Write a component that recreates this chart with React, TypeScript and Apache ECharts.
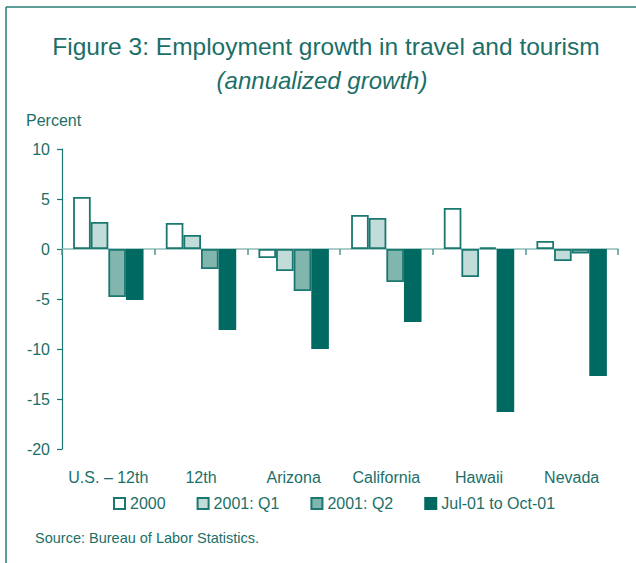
import React, { useEffect, useRef } from "react";
import * as echarts from "echarts";

const categories = ["U.S. – 12th", "12th", "Arizona", "California", "Hawaii", "Nevada"];
const seriesNames = ["2000", "2001: Q1", "2001: Q2", "Jul-01 to Oct-01"];
const values2000 = [5.2, 2.6, -0.9, 3.4, 4.1, 0.8];
const values2001Q1 = [2.7, 1.4, -2.2, 3.1, -2.8, -1.2];
const values2001Q2 = [-4.8, -2.0, -4.2, -3.3, 0.15, -0.45];
const valuesJulOct = [-5.1, -8.1, -10.0, -7.3, -16.3, -12.7];
const yTicks = { min: -20, max: 10, interval: 5 };

const TEXT = "#1b6f68";
const BORDER = "#1b7870";
const FONT = "'Liberation Sans', Arial, sans-serif";

export default function App() {
  const ref = useRef<HTMLDivElement>(null);
  useEffect(() => {
    if (!ref.current) return;
    const chart = echarts.init(ref.current, null, { renderer: "svg" });
    const fills = ["#ffffff", "#c1dcd9", "#81b6af", "#006a62"];
    const borders = [BORDER, BORDER, BORDER, "#006a62"];
    const data = [values2000, values2001Q1, values2001Q2, valuesJulOct];
    chart.setOption({
      animation: false,
      backgroundColor: "#ffffff",
      textStyle: { fontFamily: FONT, color: TEXT },
      grid: { left: 62, right: 18, top: 149, bottom: 114, containLabel: false },
      legend: {
        data: seriesNames,
        left: 113,
        top: 495.5,
        padding: 0,
        itemWidth: 11,
        itemHeight: 11,
        itemGap: 31,
        icon: "rect",
        textStyle: { fontSize: 16, color: TEXT, fontFamily: FONT },
      },
      xAxis: [
        {
          type: "category",
          data: categories,
          position: "bottom",
          axisLine: { show: true, onZero: true, lineStyle: { color: "#8dbdb6", width: 1.5 } },
          axisTick: { show: true, inside: false, interval: 0, length: 6, lineStyle: { color: "#4f958c", width: 1.5 } },
          axisLabel: { show: false },
        },
        {
          type: "category",
          data: categories,
          position: "bottom",
          axisLine: { show: false, onZero: false },
          axisTick: { show: false },
          axisLabel: { fontSize: 16, color: TEXT, margin: 20, fontFamily: FONT, interval: 0, hideOverlap: false },
        },
      ],
      yAxis: {
        type: "value",
        min: yTicks.min,
        max: yTicks.max,
        interval: yTicks.interval,
        axisLine: { show: true, onZero: false, lineStyle: { color: BORDER, width: 1.2 } },
        axisTick: { show: true, length: 5, lineStyle: { color: BORDER, width: 1.2 } },
        axisLabel: { fontSize: 16, color: TEXT, margin: 12, fontFamily: FONT },
        splitLine: { show: false },
      },
      series: seriesNames.map((name, i) => ({
        name,
        type: "bar",
        xAxisIndex: 0,
        data: data[i],
        barGap: "0%",
        barCategoryGap: "24%",
        itemStyle: { color: fills[i], borderColor: borders[i], borderWidth: 1.8 },
      })),
      graphic: [
        { type: "line", shape: { x1: 6, y1: 7, x2: 636, y2: 7 }, style: { stroke: "#2a7d75", lineWidth: 1.5 } },
        { type: "line", shape: { x1: 6, y1: 7, x2: 6, y2: 563 }, style: { stroke: "#2a7d75", lineWidth: 1.5 } },
        {
          type: "text",
          x: 326,
          y: 46,
          style: {
            text: "Figure 3: Employment growth in travel and tourism",
            fill: TEXT,
            font: `24.5px ${FONT}`,
            align: "center",
            verticalAlign: "middle",
          },
        },
        {
          type: "text",
          x: 322,
          y: 80,
          style: {
            text: "(annualized growth)",
            fill: TEXT,
            font: `italic 24px ${FONT}`,
            align: "center",
            verticalAlign: "middle",
          },
        },
        {
          type: "text",
          x: 26,
          y: 120,
          style: { text: "Percent", fill: TEXT, font: `16px ${FONT}`, align: "left", verticalAlign: "middle" },
        },
        {
          type: "text",
          x: 35,
          y: 538,
          style: {
            text: "Source: Bureau of Labor Statistics.",
            fill: TEXT,
            font: `14.5px ${FONT}`,
            align: "left",
            verticalAlign: "middle",
          },
        },
      ],
    });
    return () => chart.dispose();
  }, []);
  return (
    <div
      ref={ref}
      style={{ position: "absolute", left: 0, top: 0, width: 636, height: 563 }}
    />
  );
}
